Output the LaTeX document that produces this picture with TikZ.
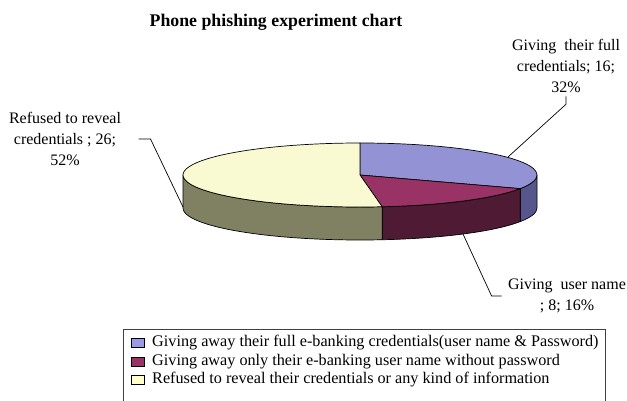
\documentclass[tikz,border=0pt]{standalone}
\usepackage{fontspec}
\setmainfont{Liberation Serif}
\usetikzlibrary{positioning}
\definecolor{fulltop}{RGB}{146,146,212}
\definecolor{fullside}{RGB}{86,86,140}
\definecolor{nametop}{RGB}{153,51,102}
\definecolor{nameside}{RGB}{78,26,52}
\definecolor{refusedtop}{RGB}{250,250,210}
\definecolor{refusedside}{RGB}{128,128,98}
\definecolor{fullkey}{RGB}{153,153,230}
\definecolor{namekey}{RGB}{153,51,102}
\definecolor{refusedkey}{RGB}{255,255,204}

\begin{document}
\begin{tikzpicture}[x=1pt, y=1pt, every node/.style={align=center, font=\fontsize{16}{21}\selectfont},
    swatch/.style={draw=black, minimum width=13pt, minimum height=9pt, inner sep=0pt},
    keytext/.style={anchor=west, font=\fontsize{16.2}{18}\selectfont},
    slice/.style={draw=black, line width=0.7pt, line join=round},
    leader/.style={draw=black, line width=0.7pt}]
    \useasboundingbox (0,0) rectangle (627,400);

    \begin{scope}[shift={(360,225)}, x radius=177pt, y radius=32pt]
    \filldraw[slice, fill=fullside] (0:177pt and 32pt) arc[start angle=0, end angle=-25.2] -- ++(0,-33) arc[start angle=-25.2, end angle=0] -- cycle;
    \filldraw[slice, fill=nameside] (-25.2:177pt and 32pt) arc[start angle=-25.2, end angle=-82.8] -- ++(0,-33) arc[start angle=-82.8, end angle=-25.2] -- cycle;
    \filldraw[slice, fill=refusedside] (-82.8:177pt and 32pt) arc[start angle=-82.8, end angle=-180] -- ++(0,-33) arc[start angle=-180, end angle=-82.8] -- cycle;
    \filldraw[slice, fill=fulltop] (0,0) -- (90:177pt and 32pt) arc[start angle=90, end angle=-25.2] -- cycle;
    \filldraw[slice, fill=nametop] (0,0) -- (-25.2:177pt and 32pt) arc[start angle=-25.2, end angle=-82.8] -- cycle;
    \filldraw[slice, fill=refusedtop] (0,0) -- (-82.8:177pt and 32pt) arc[start angle=-82.8, end angle=-270] -- cycle;
    \end{scope}

    \coordinate (pfull) at (508,243);
    \coordinate (pname) at (463,166);
    \coordinate (prefused) at (183,193);

    \node (title) at (276,378) {\bfseries\fontsize{17.8}{20}\selectfont Phone phishing experiment chart};
    \node (lblfull) at (566,334) {Giving\ \ their full\\credentials; 16;\\32\%};
    \node (lblrefused) at (65,261) {Refused to reveal\\credentials ; 26;\\52\%};
    \node (lblname) at (567,104) {Giving\ \ user name\\; 8; 16\%};

    \draw[leader] (lblfull.south) -- ++(0,-8) -- (pfull);
    \draw[leader] ([xshift=14pt]lblrefused.east) -- ++(12,0) -- (prefused);
    \draw[leader] (pname) -- ([xshift=-13pt]lblname.west) -- ([xshift=-3pt]lblname.west);

    \draw[draw=black!75, line width=0.8pt] (123,-2) |- (605,71) -- (605,-2);
    \node[swatch, fill=fullkey] (swfull) at (138,57) {};
    \node[swatch, fill=namekey, below=9pt of swfull] (swname) {};
    \node[swatch, fill=refusedkey, below=9pt of swname] (swrefused) {};
    \node[keytext, right=4pt of swfull] (keyfull) {Giving away their full e-banking credentials(user name \& Password)};
    \node[keytext, right=4pt of swname] (keyname) {Giving away only their e-banking user name without password};
    \node[keytext, right=4pt of swrefused] (keyrefused) {Refused to reveal their credentials or any kind of information};
  \end{tikzpicture}
\end{document}
